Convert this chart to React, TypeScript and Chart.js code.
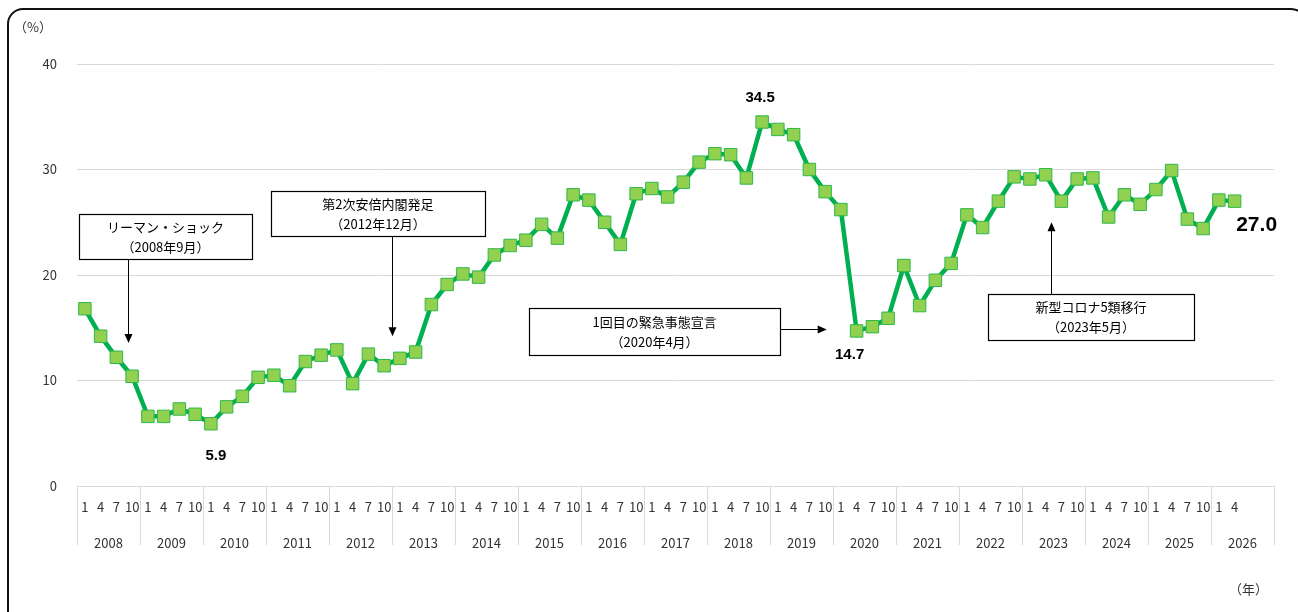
import React, { useEffect, useRef } from 'react';
import { Chart, registerables } from 'chart.js';

Chart.register(...registerables);

// ---- Data ----
const years = ['2008', '2009', '2010', '2011', '2012', '2013', '2014', '2015', '2016', '2017', '2018', '2019', '2020', '2021', '2022', '2023', '2024', '2025', '2026'];
const monthTicks = ['1', '4', '7', '10'];
// 2026 has only Jan and Apr labelled; the remaining two slots are empty
const lastYearTicks = ['1', '4', '', ''];

const rates = [
  16.8, 14.2, 12.2, 10.4, // 2008
  6.6, 6.6, 7.3, 6.8, // 2009
  5.9, 7.5, 8.5, 10.3, // 2010
  10.5, 9.5, 11.8, 12.4, // 2011
  12.9, 9.7, 12.5, 11.4, // 2012
  12.1, 12.7, 17.2, 19.1, // 2013
  20.1, 19.8, 21.9, 22.8, // 2014
  23.3, 24.8, 23.5, 27.6, // 2015
  27.1, 25.0, 22.9, 27.7, // 2016
  28.2, 27.4, 28.8, 30.7, // 2017
  31.5, 31.4, 29.2, 34.5, // 2018
  33.8, 33.3, 30.0, 27.9, // 2019
  26.2, 14.7, 15.1, 15.9, // 2020
  20.9, 17.1, 19.5, 21.1, // 2021
  25.7, 24.5, 27.0, 29.3, // 2022
  29.1, 29.5, 27.0, 29.1, // 2023
  29.2, 25.5, 27.6, 26.7, // 2024
  28.1, 29.9, 25.3, 24.4, // 2025
  27.1, 27.0, // 2026
];

const categories: string[] = years.flatMap((y, i) => (i === years.length - 1 ? lastYearTicks : monthTicks));

// highlighted values: index into rates, text
const valueLabels = [
  { index: 8, text: '5.9', dx: 5, dy: 32, size: 15 },
  { index: 43, text: '34.5', dx: -2, dy: -24, size: 15 },
  { index: 49, text: '14.7', dx: -7, dy: 24, size: 15 },
  { index: 73, text: '27.0', dx: 22, dy: 24, size: 21 },
];

// annotation boxes, positioned in data units (category index, value)
const annotations = [
  { lines: ['リーマン・ショック', '（2008年9月）'], cx: 5.12, cy: 23.65, w: 173, h: 45, arrow: { dir: 'down', x: 2.74, to: 13.55 } },
  { lines: ['第2次安倍内閣発足', '（2012年12月）'], cx: 18.61, cy: 25.83, w: 214, h: 45, arrow: { dir: 'down', x: 19.5, to: 14.2 } },
  { lines: ['1回目の緊急事態宣言', '（2020年4月）'], cx: 36.17, cy: 14.64, w: 251, h: 47, arrow: { dir: 'right', y: 14.88, to: 47.1 } },
  { lines: ['新型コロナ5類移行', '（2023年5月）'], cx: 63.88, cy: 16.02, w: 206, h: 46, arrow: { dir: 'up', x: 61.34, to: 25.0 } },
];

const FONT = '"Noto Sans CJK JP", "Noto Sans", sans-serif';
const BOLD_FONT = '"Liberation Sans Narrow", "Liberation Sans", Arial, sans-serif';

const overlayPlugin = {
  id: 'overlay',
  afterDatasetsDraw(chart: any) {
    const ctx = chart.ctx as CanvasRenderingContext2D;
    const xs = chart.scales.x;
    const ys = chart.scales.y;
    ctx.save();

    // annotation boxes and arrows
    annotations.forEach((a: any) => {
      const cx = xs.getPixelForValue(a.cx);
      const cy = ys.getPixelForValue(a.cy);
      const left = Math.round(cx - a.w / 2) + 0.5;
      const top = Math.round(cy - a.h / 2) + 0.5;
      ctx.fillStyle = '#ffffff';
      ctx.fillRect(left, top, a.w, a.h);
      ctx.strokeStyle = '#000';
      ctx.lineWidth = 1.2;
      ctx.strokeRect(left, top, a.w, a.h);
      ctx.fillStyle = '#000';
      ctx.font = `13px ${FONT}`;
      ctx.textAlign = 'center';
      ctx.textBaseline = 'middle';
      ctx.fillText(a.lines[0], cx, top + a.h / 2 - 10);
      ctx.fillText(a.lines[1], cx, top + a.h / 2 + 10);

      const ar = a.arrow;
      ctx.lineWidth = 1;
      ctx.beginPath();
      if (ar.dir === 'down' || ar.dir === 'up') {
        const x = Math.round(xs.getPixelForValue(ar.x)) + 0.5;
        const tip = ys.getPixelForValue(ar.to);
        const start = ar.dir === 'down' ? top + a.h : top;
        const sgn = ar.dir === 'down' ? 1 : -1;
        ctx.moveTo(x, start);
        ctx.lineTo(x, tip - sgn * 8);
        ctx.stroke();
        ctx.beginPath();
        ctx.moveTo(x, tip);
        ctx.lineTo(x - 4, tip - sgn * 9);
        ctx.lineTo(x + 4, tip - sgn * 9);
        ctx.closePath();
        ctx.fill();
      } else {
        const y = Math.round(ys.getPixelForValue(ar.y)) + 0.5;
        const tip = xs.getPixelForValue(ar.to);
        ctx.moveTo(left + a.w, y);
        ctx.lineTo(tip - 8, y);
        ctx.stroke();
        ctx.beginPath();
        ctx.moveTo(tip, y);
        ctx.lineTo(tip - 9, y - 4);
        ctx.lineTo(tip - 9, y + 4);
        ctx.closePath();
        ctx.fill();
      }
    });

    // value labels
    const meta = chart.getDatasetMeta(0);
    valueLabels.forEach((l) => {
      const pt = meta.data[l.index];
      ctx.font = `bold ${l.size}px ${BOLD_FONT}`;
      ctx.fillStyle = '#000';
      ctx.textAlign = 'center';
      ctx.textBaseline = 'middle';
      ctx.fillText(l.text, pt.x + l.dx, pt.y + l.dy);
    });

    // unit labels
    ctx.font = `13px ${FONT}`;
    ctx.fillStyle = '#333';
    ctx.textAlign = 'left';
    ctx.textBaseline = 'middle';
    ctx.fillText('（%）', 14, 27);
    ctx.textAlign = 'right';
    ctx.fillText('（年）', 1268, 589);

    ctx.restore();
  },
};

export default function App() {
  const canvasRef = useRef<HTMLCanvasElement | null>(null);

  useEffect(() => {
    if (!canvasRef.current) return;
    const tickFont = { family: FONT, size: 13 };
    const chart = new Chart(canvasRef.current, {
      type: 'line',
      data: {
        labels: categories,
        datasets: [
          {
            data: rates,
            borderColor: '#00B050',
            borderWidth: 4.5,
            backgroundColor: '#92D050',
            pointStyle: 'rect',
            pointRadius: 8.8,
            pointBorderColor: '#2DB84A',
            pointBackgroundColor: '#92D050',
            pointBorderWidth: 1,
            tension: 0,
            fill: false,
          },
        ],
      },
      options: {
        responsive: false,
        animation: false,
        devicePixelRatio: 1,
        layout: { padding: { left: 0, top: 64, right: 24, bottom: 0 } },
        plugins: {
          legend: { display: false },
          tooltip: { enabled: false },
        },
        scales: {
          x: {
            type: 'category',
            position: 'bottom',
            weight: 0,
            offset: true,
            grid: {
              offset: true,
              drawOnChartArea: false,
              drawTicks: true,
              tickLength: 59,
              lineWidth: 1,
              color: (c: any) => (c.index === undefined || c.index % 4 === 0 ? '#d9d9d9' : 'rgba(0,0,0,0)'),
            },
            border: { display: true, color: '#d9d9d9', width: 1 },
            ticks: {
              autoSkip: false,
              maxRotation: 0,
              minRotation: 0,
              padding: -46,
              color: '#333',
              font: tickFont,
            },
            afterFit: (s: any) => {
              s.height = 34;
              s.paddingLeft = 0;
              s.paddingRight = 0;
            },
          },
          x2: {
            type: 'category',
            labels: years,
            position: 'bottom',
            weight: 1,
            offset: true,
            grid: { display: false },
            border: { display: false },
            ticks: {
              autoSkip: false,
              maxRotation: 0,
              minRotation: 0,
              padding: 7,
              color: '#333',
              font: tickFont,
            },
            afterFit: (s: any) => {
              s.height = 92;
              s.paddingLeft = 0;
              s.paddingRight = 0;
            },
          },
          y: {
            min: 0,
            max: 40,
            ticks: { stepSize: 10, padding: 20, color: '#333', font: tickFont },
            grid: { color: '#d9d9d9', drawTicks: false, lineWidth: 1 },
            border: { display: false },
            afterFit: (s: any) => {
              s.width = 77;
              s.paddingTop = 0;
              s.paddingBottom = 0;
            },
          },
        },
      },
      plugins: [overlayPlugin],
    });
    return () => chart.destroy();
  }, []);

  return (
    <div style={{ position: 'fixed', left: 0, top: 0, width: 1298, height: 612, background: '#fff', overflow: 'hidden' }}>
      <div
        style={{
          position: 'absolute',
          left: 7,
          top: 8,
          width: 1300,
          height: 640,
          border: '2px solid #111',
          borderRadius: 16,
          boxSizing: 'border-box',
        }}
      />
      <canvas ref={canvasRef} width={1298} height={612} style={{ position: 'absolute', left: 0, top: 0, width: 1298, height: 612 }} />
    </div>
  );
}
